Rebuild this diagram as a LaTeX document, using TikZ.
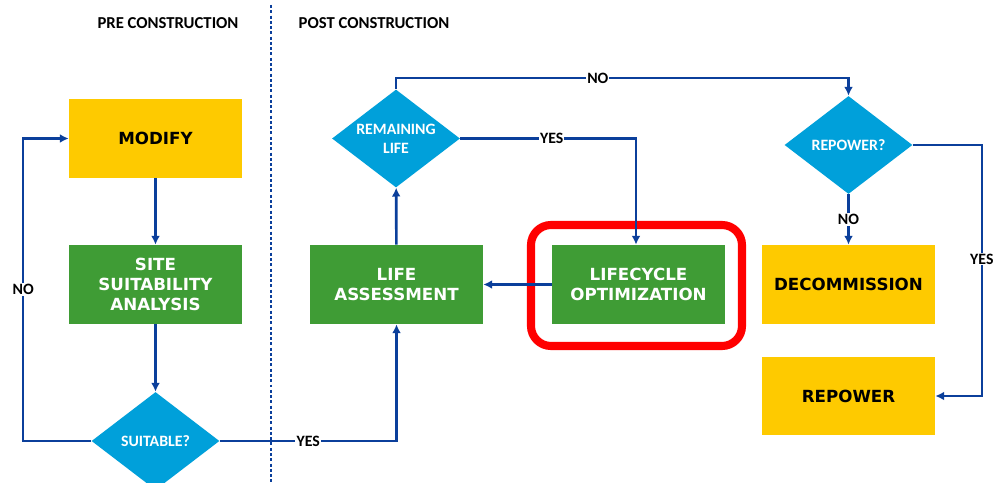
\documentclass[tikz,border=0pt]{standalone}
\usepackage{fontspec}
\setmainfont{Carlito}
\newfontfamily\boxfont{DejaVu Sans}
\usetikzlibrary{shapes.geometric,arrows.meta}
\definecolor{flowblue}{HTML}{0B3F9B}
\definecolor{boxyellow}{HTML}{FECA00}
\definecolor{boxgreen}{HTML}{3F9C35}
\definecolor{decblue}{HTML}{00A0DA}
\tikzset{
  stepbox/.style={rectangle, minimum width=3.46cm, minimum height=1.58cm, inner sep=0pt,
    align=center, font=\boxfont\bfseries\fontsize{9.5}{11.3}\selectfont},
  yellowbox/.style={stepbox, fill=boxyellow, text=black},
  greenbox/.style={stepbox, fill=boxgreen, text=white},
  decision/.style={diamond, shape aspect=1.35, fill=decblue, text=white, inner sep=0pt, align=center,
    minimum width=2.56cm, minimum height=1.96cm,
    font=\bfseries\fontsize{9}{11}\selectfont},
  arr/.style={draw=flowblue, line width=1.5pt, -{Latex[length=5pt,width=5pt]}},
  lbl/.style={fill=white, inner sep=0.6pt, text=black, font=\bfseries\fontsize{9}{10}\selectfont},
  heading/.style={font=\bfseries\fontsize{9.5}{11}\selectfont, text=black}
}
\begin{document}
\begin{tikzpicture}[x=0.02cm, y=-0.02cm]
\clip (0,0) rectangle (1000,483);
\fill[white] (0,0) rectangle (1000,483);

% phase headings and divider
\node[heading] (pre) at (168,23) {PRE CONSTRUCTION};
\node[heading] (post) at (374,23) {POST CONSTRUCTION};
\draw[flowblue, line width=1.3pt, dash pattern=on 1.7pt off 1.3pt] (271,5) -- (271,483);

% pre-construction steps
\node[yellowbox] (modify) at (155.5,138.5) {MODIFY};
\node[greenbox] (site) at (155.5,284.5) {SITE\\SUITABILITY\\ANALYSIS};
\node[decision] (suit) at (155.5,441) {SUITABLE?};

% post-construction steps
\node[greenbox] (life) at (396.5,284.5) {LIFE\\ASSESSMENT};
\node[decision] (rem) at (396,138.5) {REMAINING\\LIFE};
\node[greenbox] (lco) at (638.5,284.5) {LIFECYCLE\\OPTIMIZATION};
\node[decision] (repq) at (848.5,145) {REPOWER?};
\node[yellowbox] (decom) at (848.5,284.5) {DECOMMISSION};
\node[yellowbox] (repow) at (848.5,396) {REPOWER};

% highlight around lifecycle optimization
\draw[red, line width=4.6pt, rounded corners=0.4cm] (531,225) rectangle (742,346);

% connectors
\draw[arr] (modify) -- (site);
\draw[arr] (site) -- (suit);
\draw[arr] (suit.west) -- ++(-68,0) |- node[lbl, pos=0.25] {NO} (modify.west);
\draw[arr] (suit.east) -| node[lbl, pos=0.25] {YES} (life.south);
\draw[arr] (life) -- (rem);
\draw[arr] (rem.north) -- ++(0,-11) -| node[lbl, pos=0.223] {NO} (repq.north);
\draw[arr] (rem.east) -| node[lbl, pos=0.26] {YES} ([xshift=-2.5*0.02cm]lco.north);
\draw[arr] (lco) -- (life);
\draw[arr] (repq) -- node[lbl] {NO} (decom);
\draw[arr] (repq.east) -- ++(69,0) |- node[lbl, pos=0.227] {YES} (repow.east);
\end{tikzpicture}
\end{document}
